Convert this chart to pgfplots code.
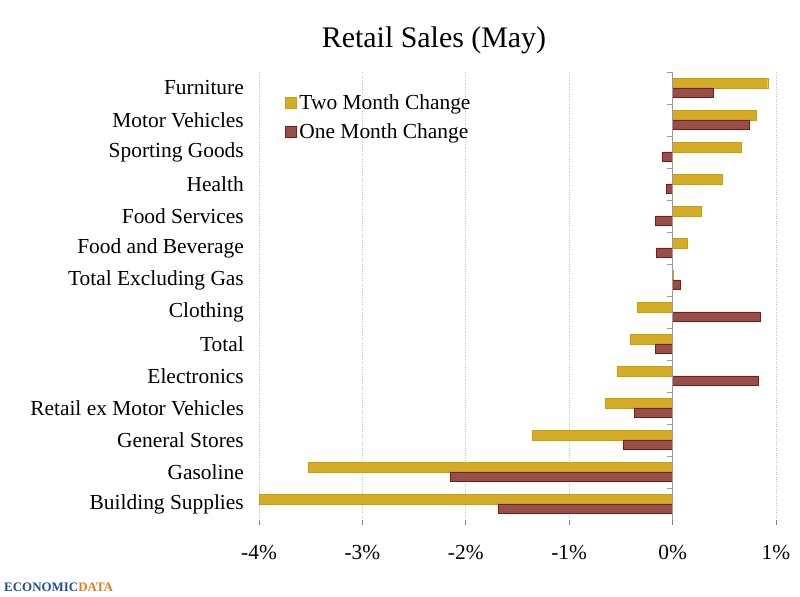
\documentclass[border=0pt]{standalone}
\usepackage{fontspec}
\setmainfont{Liberation Serif}
\usepackage{pgfplots}
\pgfplotsset{compat=1.18}
\definecolor{gold}{HTML}{D4AC2A}
\definecolor{golddark}{HTML}{C9A000}
\definecolor{brown}{HTML}{954F48}
\definecolor{browndark}{HTML}{7E1A12}
\definecolor{gridblue}{HTML}{A9C6DE}
\definecolor{logoblue}{HTML}{1F4E9A}
\definecolor{logoorange}{HTML}{E07B1F}
\begin{document}
\begin{tikzpicture}[x=1bp,y=1bp]
\path[use as bounding box] (0,0) rectangle (800,597);
\node[anchor=base, font=\fontsize{30}{34}\selectfont] at (434,549) {Retail Sales (May)};
\node[anchor=base west, inner sep=0pt, font=\fontsize{13}{15}\selectfont\bfseries] at (4,5) {\textcolor{logoblue}{ECONOMIC}\textcolor{logoorange}{DATA}};
\begin{axis}[
  at={(259bp,77bp)}, anchor=south west,
  scale only axis, width=517bp, height=448bp,
  xmin=-4, xmax=1, ymin=-0.5, ymax=13.5,
  axis line style={draw=none},
  xtick={-4,-3,-2,-1,0,1},
  xticklabels={-4\%,-3\%,-2\%,-1\%,0\%,1\%},
  xtick pos=bottom, xtick align=outside,
  x tick style={gray, line width=0.8bp},
  major tick length=5bp,
  ytick={0,...,13},
  yticklabels={Building Supplies,Gasoline,General Stores,Retail ex Motor Vehicles,Electronics,Total,Clothing,Total Excluding Gas,Food and Beverage,Food Services,Health,Sporting Goods,Motor Vehicles,Furniture},
  y tick style={draw=none},
  ytick pos=left,
  tick label style={font=\fontsize{21.5}{24}\selectfont},
  yticklabel style={anchor=east, inner sep=0pt, xshift=-15bp},
  xticklabel style={anchor=north, inner sep=0pt, yshift=-20bp},
  xmajorgrids, x grid style={gridblue, dotted, line width=0.8bp},
  legend style={at={(0.05,0.955)}, anchor=north west, draw=none, fill=none,
    font=\fontsize{21.5}{24}\selectfont, row sep=9bp, inner sep=0pt,
    nodes={inner xsep=3bp}},
  legend cell align=left,
  legend image code/.code={\fill[#1] (0bp,-5.5bp) rectangle (11bp,5.5bp);},
]
\addplot[xbar, bar width=9.5bp, bar shift=4.75bp, fill=gold, draw=golddark] coordinates {
 (-4.00,0) (-3.52,1) (-1.36,2) (-0.65,3) (-0.54,4) (-0.41,5) (-0.34,6)
 (0.01,7) (0.14,8) (0.28,9) (0.48,10) (0.66,11) (0.81,12) (0.92,13)};
\addlegendentry{Two Month Change}
\addplot[xbar, bar width=9.5bp, bar shift=-4.75bp, fill=brown, draw=browndark] coordinates {
 (-1.69,0) (-2.15,1) (-0.48,2) (-0.37,3) (0.83,4) (-0.17,5) (0.85,6)
 (0.07,7) (-0.16,8) (-0.17,9) (-0.06,10) (-0.10,11) (0.74,12) (0.39,13)};
\addlegendentry{One Month Change}
\draw[gray!80, line width=0.8bp] (rel axis cs:0,0) -- (rel axis cs:1,0);
\draw[gray!80, line width=0.8bp] (axis cs:0,-0.5) -- (axis cs:0,13.5);
\pgfplotsinvokeforeach{0.5,1.5,2.5,3.5,4.5,5.5,6.5,7.5,8.5,9.5,10.5,11.5,12.5,13.5}{
  \draw[gray!80, line width=0.8bp] (axis cs:0,#1) -- ([xshift=-6bp]axis cs:0,#1);
}
\end{axis}
\end{tikzpicture}
\end{document}
